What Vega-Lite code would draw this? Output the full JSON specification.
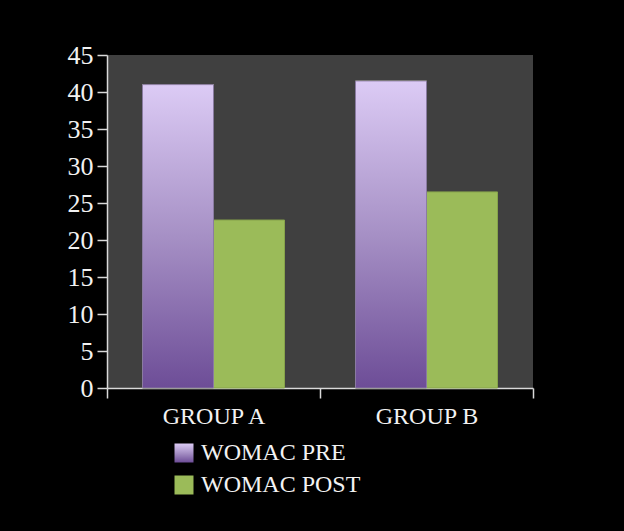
{
  "$schema": "https://vega.github.io/schema/vega-lite/v6.json",
  "width": 426,
  "height": 333,
  "autosize": "none",
  "padding": {"left": 107, "top": 55, "right": 91, "bottom": 143},
  "background": "#000000",
  "config": {
    "view": {"fill": "#404040", "stroke": null},
    "axis": {
      "domainColor": "#d9d9d9",
      "tickColor": "#d9d9d9",
      "domainWidth": 1.5,
      "tickWidth": 1.5,
      "tickSize": 10,
      "labelFont": "Liberation Serif",
      "labelFontSize": 24,
      "labelColor": "#f2f2f2",
      "grid": false,
      "title": null
    },
    "legend": {
      "orient": "none",
      "direction": "vertical",
      "title": null,
      "padding": 0,
      "symbolType": "square",
      "symbolSize": 361,
      "symbolStrokeWidth": 0,
      "symbolOpacity": 1,
      "labelFont": "Liberation Serif",
      "labelFontSize": 24,
      "labelColor": "#f2f2f2",
      "labelOffset": 5
    }
  },
  "data": {
    "values": [
      {"group": "GROUP A", "series": "WOMAC PRE", "value": 41.0},
      {"group": "GROUP A", "series": "WOMAC POST", "value": 22.7},
      {"group": "GROUP B", "series": "WOMAC PRE", "value": 41.5},
      {"group": "GROUP B", "series": "WOMAC POST", "value": 26.5}
    ]
  },
  "encoding": {
    "x": {
      "field": "group",
      "type": "nominal",
      "scale": {"paddingInner": 0, "paddingOuter": 0},
      "axis": {"labelAngle": 0, "tickBand": "extent", "labelPadding": 6}
    },
    "xOffset": {
      "field": "series",
      "type": "nominal",
      "sort": ["WOMAC PRE", "WOMAC POST"],
      "scale": {"paddingInner": 0, "paddingOuter": 0.5}
    },
    "y": {
      "field": "value",
      "type": "quantitative",
      "scale": {"domain": [0, 45], "nice": false},
      "axis": {"values": [0, 5, 10, 15, 20, 25, 30, 35, 40, 45], "labelPadding": 4, "labelFontSize": 26}
    }
  },
  "layer": [
    {
      "mark": {"type": "bar", "stroke": "#86a34a", "strokeWidth": 1},
      "encoding": {
        "color": {
          "field": "series",
          "type": "nominal",
          "scale": {"domain": ["WOMAC PRE", "WOMAC POST"], "range": ["#9c86bc", "#9bbb59"]},
          "legend": {"values": ["WOMAC POST"], "legendX": 65, "legendY": 418}
        }
      }
    },
    {
      "transform": [{"filter": "datum.series === 'WOMAC PRE'"}],
      "mark": {
        "type": "bar",
        "stroke": "#8a7ba1",
        "strokeWidth": 1,
        "fill": {
          "gradient": "linear",
          "x1": 0, "y1": 0, "x2": 0, "y2": 1,
          "stops": [
            {"offset": 0, "color": "#dccbf5"},
            {"offset": 0.5, "color": "#a690c5"},
            {"offset": 1, "color": "#6d4d97"}
          ]
        }
      },
      "encoding": {
        "opacity": {
          "field": "series",
          "type": "nominal",
          "scale": {"domain": ["WOMAC PRE"], "range": [1, 1]},
          "legend": {"legendX": 65, "legendY": 386}
        }
      }
    }
  ]
}
